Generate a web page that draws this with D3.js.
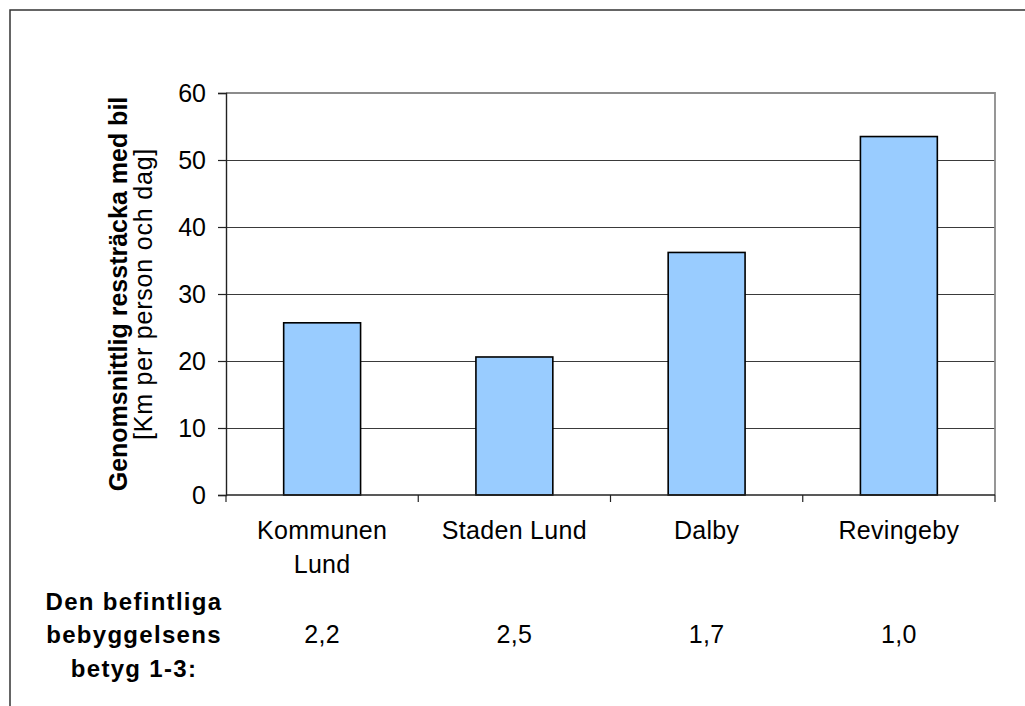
<!DOCTYPE html>
<html>
<head>
<meta charset="utf-8">
<script src="https://cdn.jsdelivr.net/npm/d3@7"></script>
<style>
  html, body { margin: 0; padding: 0; background: #fff; }
  svg { display: block; font-family: "Liberation Sans", Arial, sans-serif; }
</style>
</head>
<body>
<svg id="chart" width="1025" height="706"></svg>
<script>
// Average daily car travel distance per person, by area
const categories = [["Kommunen", "Lund"], ["Staden Lund"], ["Dalby"], ["Revingeby"]];
const distances = [25.7, 20.6, 36.2, 53.5];
// Rating of the existing built environment (1-3)
const ratings = ["2,2", "2,5", "1,7", "1,0"];
const yTicks = [0, 10, 20, 30, 40, 50, 60];
const yTitleBold = "Genomsnittlig ressträcka med bil";
const yTitleUnit = "[Km per person och dag]";
const ratingTitle = ["Den befintliga", "bebyggelsens", "betyg 1-3:"];

const svg = d3.select("#chart");
const plot = { left: 226, right: 995, top: 93, bottom: 495 };

// outer chart frame (runs past the right and bottom edges)
svg.append("rect")
  .attr("x", 10).attr("y", 10)
  .attr("width", 1200).attr("height", 900)
  .attr("fill", "none").attr("stroke", "#333").attr("stroke-width", 1.5);

const x = d3.scaleBand()
  .domain(d3.range(categories.length))
  .range([plot.left, plot.right])
  .paddingInner(0.6).paddingOuter(0.3);

const y = d3.scaleLinear().domain([0, 60]).range([plot.bottom, plot.top]);

// horizontal gridlines
svg.append("g").selectAll("line")
  .data(yTicks.filter(t => t > 0 && t < 60))
  .join("line")
  .attr("x1", plot.left).attr("x2", plot.right)
  .attr("y1", d => y(d) + 0.5).attr("y2", d => y(d) + 0.5)
  .attr("stroke", "#3a3a3a").attr("stroke-width", 1.2);

// grey plot-area border on top and right
svg.append("path")
  .attr("d", `M${plot.left},${y(60)}H${plot.right}V${plot.bottom}`)
  .attr("fill", "none").attr("stroke", "#8c8c8c").attr("stroke-width", 1.8);

// bars
svg.append("g").selectAll("rect")
  .data(distances)
  .join("rect")
  .attr("x", (d, i) => x(i))
  .attr("y", d => y(d))
  .attr("width", x.bandwidth())
  .attr("height", d => y(0) - y(d))
  .attr("fill", "#99ccff")
  .attr("stroke", "#000").attr("stroke-width", 1.6);

// y axis
const yAxis = d3.axisLeft(y).tickValues(yTicks).tickSize(8).tickPadding(12);
const gy = svg.append("g").attr("transform", `translate(${plot.left},0)`).call(yAxis);
gy.select(".domain").attr("stroke", "#222").attr("stroke-width", 1.4);
gy.selectAll(".tick line").attr("stroke", "#222").attr("stroke-width", 1.2);
gy.selectAll(".tick text")
  .attr("font-size", 25).attr("fill", "#000")
  .attr("font-family", "Liberation Sans, Arial, sans-serif");

// x axis line with ticks at category boundaries
const step = x.step();
const boundaries = d3.range(categories.length + 1).map(i => plot.left + i * step);
svg.append("line")
  .attr("x1", plot.left).attr("x2", plot.right)
  .attr("y1", plot.bottom).attr("y2", plot.bottom)
  .attr("stroke", "#222").attr("stroke-width", 1.6);
svg.append("g").selectAll("line")
  .data(boundaries)
  .join("line")
  .attr("x1", d => d).attr("x2", d => d)
  .attr("y1", plot.bottom).attr("y2", plot.bottom + 7)
  .attr("stroke", "#222").attr("stroke-width", 1.2);

// category labels
const center = i => x(i) + x.bandwidth() / 2;
svg.append("g").selectAll("text")
  .data(categories)
  .join("text")
  .attr("x", (d, i) => center(i))
  .attr("y", 539)
  .attr("text-anchor", "middle")
  .attr("font-size", 25)
  .attr("letter-spacing", 0.3)
  .each(function (lines) {
    d3.select(this).selectAll("tspan")
      .data(lines)
      .join("tspan")
      .attr("x", d3.select(this).attr("x"))
      .attr("dy", (d, j) => j === 0 ? 0 : 34)
      .text(d => d);
  });

// rating row
svg.append("g").selectAll("text")
  .data(ratings)
  .join("text")
  .attr("x", (d, i) => center(i))
  .attr("y", 643)
  .attr("text-anchor", "middle")
  .attr("font-size", 25)
  .attr("letter-spacing", 0.3)
  .text(d => d);

svg.append("g").selectAll("text")
  .data(ratingTitle)
  .join("text")
  .attr("x", 134)
  .attr("y", (d, i) => 610 + i * 33.3)
  .attr("text-anchor", "middle")
  .attr("font-size", 24)
  .attr("font-weight", "bold")
  .attr("letter-spacing", 1.3)
  .text(d => d);

// y axis title, two lines
const midY = (plot.top + plot.bottom) / 2;
svg.append("text")
  .attr("transform", `translate(127,${midY}) rotate(-90)`)
  .attr("text-anchor", "middle")
  .attr("font-size", 25)
  .attr("font-weight", "bold")
  .text(yTitleBold);
svg.append("text")
  .attr("transform", `translate(152,${midY}) rotate(-90)`)
  .attr("text-anchor", "middle")
  .attr("font-size", 25)
  .attr("letter-spacing", 0.8)
  .text(yTitleUnit);
</script>
</body>
</html>
